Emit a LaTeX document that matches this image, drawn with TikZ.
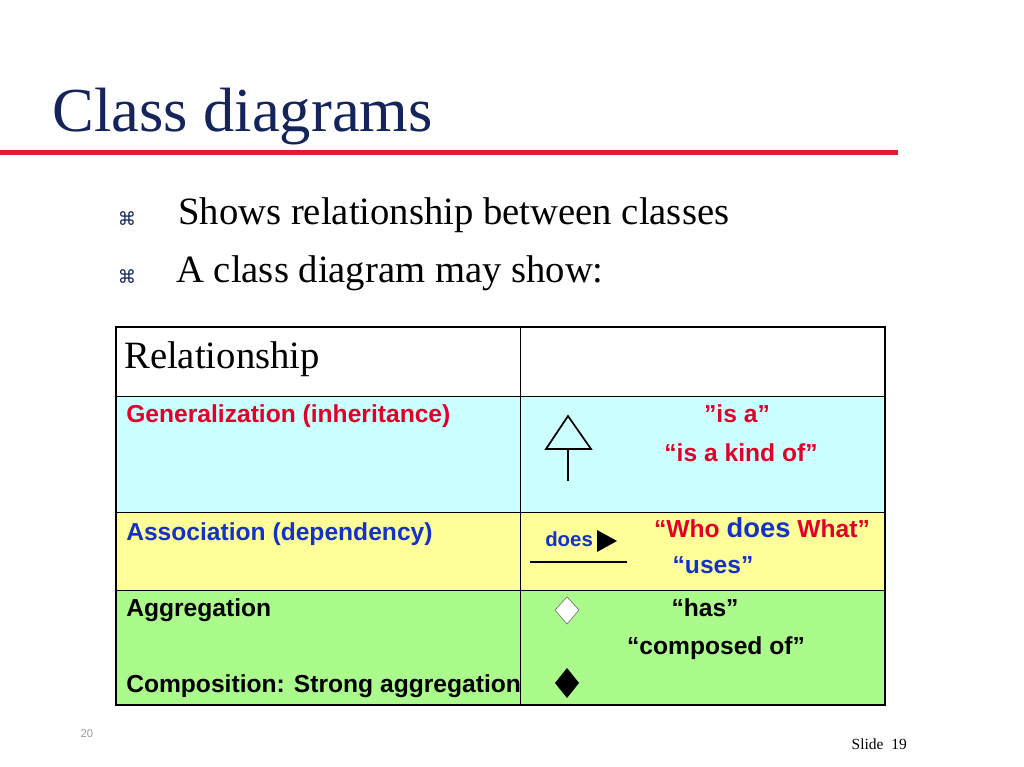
\documentclass[tikz,border=0pt]{standalone}
\usepackage{fontspec}
\setmainfont{Liberation Serif}
\newfontfamily\arialfont{Liberation Sans}
\newfontfamily\symfont{DejaVu Sans}
\definecolor{navy}{RGB}{22,36,92}
\definecolor{titlered}{RGB}{220,30,50}
\definecolor{rowcyan}{RGB}{204,255,255}
\definecolor{rowyellow}{RGB}{255,255,153}
\definecolor{rowgreen}{RGB}{170,250,140}
\definecolor{txtred}{RGB}{225,0,40}
\definecolor{txtblue}{RGB}{20,50,200}
\tikzset{
  rowtxt/.style={anchor=base west, inner sep=0pt, font=\arialfont\bfseries\fontsize{17.5}{20}\selectfont},
  cenrow/.style={anchor=base, inner sep=0pt, font=\arialfont\bfseries\fontsize{17.5}{20}\selectfont},
  bigtxt/.style={anchor=base west, inner sep=0pt, font=\fontsize{27.5}{32}\selectfont}
}
\begin{document}
\begin{tikzpicture}[x=0.025cm, y=-0.025cm]
    \useasboundingbox (0,0) rectangle (1024,767);
    \fill[white] (0,0) rectangle (1024,767);
    % title
    \node[anchor=base west, inner sep=0pt, text=navy, font=\fontsize{44.5}{50}\selectfont] (title) at (52,132) {Class diagrams};
    \fill[titlered] (0,150) rectangle (898,155);
    % bullets
    \node[anchor=base, inner sep=0pt, text=navy, font=\symfont\fontsize{13}{14}\selectfont] (b1) at (127,226) {⌘};
    \node[anchor=base, inner sep=0pt, text=navy, font=\symfont\fontsize{13}{14}\selectfont] (b2) at (127,283) {⌘};
    \node[bigtxt] (s1) at (178,225) {Shows relationship between classes};
    \node[bigtxt] (s2) at (176,282) {A class diagram may show:};
    % table rows
    \fill[rowcyan] (116,396) rectangle (885,512);
    \fill[rowyellow] (116,512) rectangle (885,590);
    \fill[rowgreen] (116,590) rectangle (885,705);
    \draw[line width=0.6pt] (116,396) -- (885,396);
    \draw[line width=0.6pt] (116,512) -- (885,512);
    \draw[line width=0.6pt] (116,590) -- (885,590);
    \draw[line width=0.6pt] (520,327) -- (520,705);
    \draw[line width=1.6pt] (116,327) rectangle (885,705);
    % texts
    \node[bigtxt] (rel) at (124,368) {Relationship};
    \node[rowtxt, text=txtred] (gen) at (126,422) {Generalization (inheritance)};
    \node[rowtxt, text=txtblue] (asc) at (126,540) {Association (dependency)};
    \node[rowtxt] (agg) at (126,616) {Aggregation};
    \node[rowtxt] (comp) at (126,692) {Composition: Strong aggregation};
    \node[cenrow, text=txtred] (isa) at (737,422) {”is a”};
    \node[cenrow, text=txtred] (kind) at (741,461) {“is a kind of”};
    \node[cenrow, text=txtred] (who) at (762,537) {“Who {\color{txtblue}\fontsize{19.5}{22}\selectfont does} What”};
    \node[cenrow, text=txtblue] (uses) at (713,573) {“uses”};
    \node[cenrow] (has) at (705,616) {“has”};
    \node[cenrow] (compof) at (716,654) {“composed of”};
    % symbols
    \draw[line width=1.2pt] (546,449) -- (568,416) -- (591,449) -- cycle;
    \draw[line width=1.2pt] (568,449) -- (568,481);
    \fill (597,530) -- (617,541) -- (597,552) -- cycle;
    \node[anchor=base west, inner sep=0pt, text=txtblue, font=\arialfont\bfseries\fontsize{14.5}{16}\selectfont] (does) at (545,546) {does};
    \draw[line width=1.3pt] (530,562) -- (627,562);
    \draw[fill=white, draw=black!60] (567,597) -- (579,610) -- (567,624) -- (555,610) -- cycle;
    \fill (567,668) -- (579,683) -- (567,698) -- (555,683) -- cycle;
    % footer
    \node[anchor=base, inner sep=0pt, text=black!40, font=\arialfont\fontsize{8}{9}\selectfont] (pg) at (87,737) {20};
    \node[anchor=base east, inner sep=0pt, font=\fontsize{11}{12}\selectfont] (slide) at (907,749) {Slide\ \ 19};
\end{tikzpicture}
\end{document}
